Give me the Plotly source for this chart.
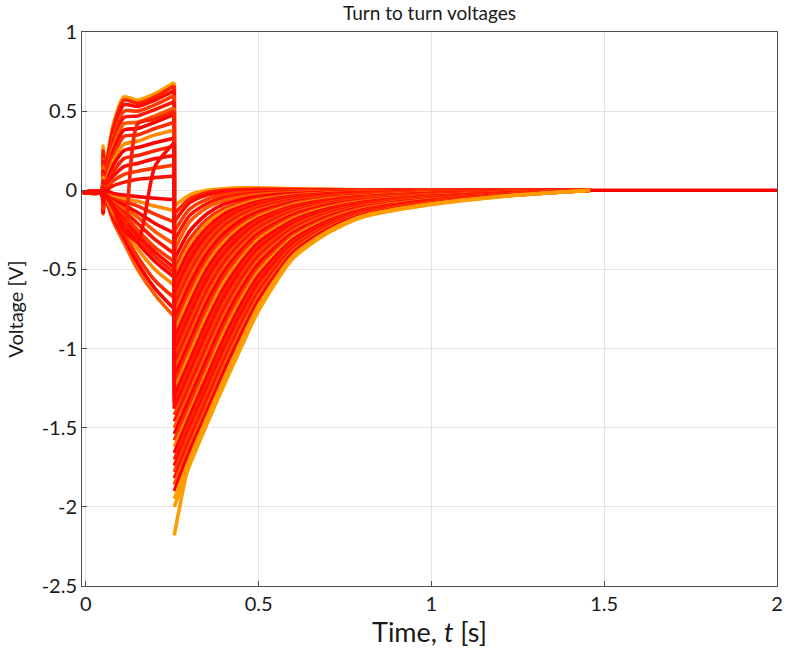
import plotly.graph_objects as go

# time bases (s)
PRE_T = [-0.01, 0.045, 0.05, 0.055, 0.08, 0.11, 0.15, 0.2, 0.256]
POST_T = [0.256, 0.3, 0.35, 0.4, 0.45, 0.5, 0.6, 0.7, 0.8, 1.0, 1.2, 1.46]
TAIL_T = [1.46, 2.0]
TAIL_V = [0.0, 0.0]

# turn voltages before the step (V), upper fan
PRE_UPPER = [
    [-0.012, -0.012, 0.28, 0.15, 0.42, 0.59, 0.57, 0.61, 0.68],
    [-0.012, -0.012, 0.25, 0.13, 0.40, 0.57, 0.55, 0.59, 0.66],
    [-0.012, -0.012, 0.22, 0.12, 0.37, 0.54, 0.53, 0.57, 0.63],
    [-0.012, -0.012, 0.20, 0.10, 0.34, 0.50, 0.50, 0.54, 0.60],
    [-0.012, -0.012, 0.18, 0.09, 0.31, 0.46, 0.47, 0.51, 0.56],
    [-0.012, -0.012, 0.15, 0.08, 0.28, 0.42, 0.43, 0.47, 0.52],
    [-0.012, -0.012, 0.12, 0.07, 0.25, 0.38, 0.39, 0.43, 0.48],
    [-0.012, -0.012, 0.10, 0.06, 0.22, 0.34, 0.35, 0.39, 0.43],
    [-0.012, -0.012, 0.08, 0.05, 0.19, 0.29, 0.31, 0.35, 0.38],
    [-0.012, -0.012, 0.06, 0.04, 0.16, 0.25, 0.27, 0.30, 0.33],
    [-0.012, -0.012, 0.05, 0.03, 0.12, 0.20, 0.22, 0.25, 0.28],
    [-0.012, -0.012, 0.04, 0.02, 0.09, 0.15, 0.17, 0.20, 0.22],
    [-0.012, -0.012, 0.03, 0.01, 0.06, 0.10, 0.12, 0.14, 0.16],
    [-0.012, -0.012, 0.02, 0.00, 0.03, 0.05, 0.07, 0.08, 0.09],
]

# before the step, lower fan
PRE_LOWER = [
    [-0.012, -0.012, -0.15, -0.05, -0.20, -0.33, -0.50, -0.66, -0.80],
    [-0.012, -0.012, -0.14, -0.05, -0.18, -0.30, -0.46, -0.62, -0.75],
    [-0.012, -0.012, -0.12, -0.04, -0.16, -0.27, -0.42, -0.57, -0.68],
    [-0.012, -0.012, -0.10, -0.04, -0.14, -0.24, -0.37, -0.50, -0.60],
    [-0.012, -0.012, -0.08, -0.03, -0.12, -0.21, -0.33, -0.45, -0.55],
    [-0.012, -0.012, -0.07, -0.03, -0.10, -0.19, -0.30, -0.42, -0.52],
    [-0.012, -0.012, -0.06, -0.02, -0.09, -0.17, -0.28, -0.39, -0.49],
    [-0.012, -0.012, -0.05, -0.02, -0.08, -0.15, -0.25, -0.36, -0.45],
    [-0.012, -0.012, -0.04, -0.02, -0.07, -0.13, -0.21, -0.31, -0.40],
    [-0.012, -0.012, -0.03, -0.01, -0.06, -0.11, -0.17, -0.26, -0.34],
    [-0.012, -0.012, -0.03, -0.01, -0.05, -0.09, -0.14, -0.21, -0.27],
    [-0.012, -0.012, -0.02, -0.01, -0.04, -0.07, -0.10, -0.15, -0.20],
    [-0.012, -0.012, -0.02, 0.00, -0.03, -0.05, -0.07, -0.10, -0.13],
    [-0.012, -0.012, -0.01, 0.00, -0.02, -0.03, -0.04, -0.05, -0.06],
]

# a couple of turns that swing across the fan
PRE_CROSS = [
    [-0.012, -0.012, -0.10, -0.03, -0.12, -0.28, 0.42, 0.45, 0.50],
    [-0.012, -0.012, -0.08, -0.02, -0.10, -0.25, -0.32, 0.15, 0.30],
]

# after the step: recovery towards zero
POST_SHALLOW = [
    [-0.10, -0.03, 0.00, 0.01, 0.015, 0.015, 0.01, 0.006, 0.003, 0.0, 0.0, 0.0],
    [-0.15, -0.055, -0.015, 0.0, 0.005, 0.008, 0.006, 0.004, 0.002, 0.0, 0.0, 0.0],
    [-0.20, -0.08, -0.03, -0.01, -0.004, 0.0, 0.002, 0.001, 0.0, 0.0, 0.0, 0.0],
    [-0.26, -0.12, -0.057, -0.028, -0.016, -0.009, -0.003, -0.002, -0.002, -0.001, 0.0, 0.0],
    [-0.32, -0.16, -0.084, -0.046, -0.029, -0.018, -0.009, -0.005, -0.004, -0.001, 0.0, 0.0],
    [-0.38, -0.20, -0.11, -0.064, -0.041, -0.027, -0.014, -0.008, -0.005, -0.002, -0.001, 0.0],
    [-0.44, -0.26, -0.15, -0.088, -0.058, -0.039, -0.021, -0.012, -0.008, -0.003, -0.002, 0.0],
    [-0.50, -0.31, -0.185, -0.115, -0.078, -0.053, -0.028, -0.017, -0.011, -0.005, -0.003, 0.0],
    [-0.54, -0.35, -0.21, -0.133, -0.091, -0.062, -0.033, -0.019, -0.013, -0.006, -0.003, 0.0],
    [-0.58, -0.38, -0.24, -0.151, -0.104, -0.071, -0.038, -0.022, -0.015, -0.007, -0.004, 0.0],
    [-0.62, -0.42, -0.26, -0.17, -0.117, -0.081, -0.043, -0.026, -0.017, -0.009, -0.004, 0.0],
    [-0.66, -0.45, -0.29, -0.19, -0.131, -0.092, -0.05, -0.03, -0.02, -0.01, -0.005, 0.0],
    [-0.70, -0.49, -0.32, -0.21, -0.145, -0.103, -0.056, -0.034, -0.023, -0.011, -0.006, 0.0],
    [-0.74, -0.53, -0.35, -0.23, -0.159, -0.114, -0.062, -0.038, -0.025, -0.012, -0.006, 0.0],
]

POST_MID = [
    [-0.78, -0.56, -0.375, -0.25, -0.173, -0.125, -0.069, -0.042, -0.028, -0.013, -0.007, 0.0],
    [-0.82, -0.60, -0.405, -0.273, -0.19, -0.137, -0.076, -0.046, -0.031, -0.015, -0.007, 0.0],
    [-0.86, -0.64, -0.44, -0.30, -0.21, -0.151, -0.083, -0.051, -0.034, -0.016, -0.008, 0.0],
    [-0.90, -0.68, -0.47, -0.325, -0.23, -0.165, -0.091, -0.056, -0.037, -0.018, -0.009, 0.0],
    [-0.94, -0.72, -0.50, -0.351, -0.247, -0.179, -0.099, -0.061, -0.04, -0.019, -0.01, 0.0],
    [-0.98, -0.76, -0.535, -0.377, -0.269, -0.193, -0.106, -0.065, -0.043, -0.021, -0.011, 0.0],
    [-1.02, -0.80, -0.57, -0.404, -0.291, -0.208, -0.115, -0.071, -0.047, -0.023, -0.012, 0.0],
    [-1.06, -0.84, -0.605, -0.432, -0.313, -0.224, -0.125, -0.077, -0.051, -0.025, -0.012, 0.0],
    [-1.10, -0.88, -0.64, -0.46, -0.335, -0.24, -0.135, -0.083, -0.055, -0.027, -0.013, 0.0],
    [-1.14, -0.92, -0.675, -0.488, -0.357, -0.256, -0.145, -0.089, -0.058, -0.029, -0.014, 0.0],
    [-1.18, -0.96, -0.71, -0.516, -0.379, -0.272, -0.155, -0.095, -0.062, -0.031, -0.015, 0.0],
    [-1.22, -1.00, -0.75, -0.547, -0.403, -0.29, -0.166, -0.102, -0.066, -0.033, -0.017, 0.0],
    [-1.26, -1.04, -0.79, -0.581, -0.429, -0.31, -0.178, -0.109, -0.071, -0.036, -0.018, 0.0],
    [-1.30, -1.08, -0.83, -0.615, -0.455, -0.33, -0.19, -0.117, -0.076, -0.038, -0.019, 0.0],
    [-1.34, -1.12, -0.87, -0.649, -0.481, -0.35, -0.202, -0.124, -0.081, -0.04, -0.02, 0.0],
    [-1.38, -1.16, -0.91, -0.683, -0.507, -0.37, -0.214, -0.131, -0.086, -0.043, -0.021, 0.0],
]

POST_DEEP = [
    [-1.42, -1.20, -0.95, -0.718, -0.535, -0.392, -0.227, -0.14, -0.091, -0.045, -0.023, 0.0],
    [-1.46, -1.24, -0.99, -0.754, -0.565, -0.416, -0.241, -0.149, -0.096, -0.048, -0.024, 0.0],
    [-1.50, -1.28, -1.03, -0.79, -0.595, -0.44, -0.255, -0.158, -0.102, -0.051, -0.026, 0.0],
    [-1.54, -1.32, -1.07, -0.826, -0.625, -0.464, -0.269, -0.167, -0.107, -0.054, -0.027, 0.0],
    [-1.58, -1.36, -1.11, -0.862, -0.655, -0.488, -0.283, -0.176, -0.112, -0.057, -0.028, 0.0],
    [-1.62, -1.40, -1.15, -0.898, -0.686, -0.513, -0.297, -0.185, -0.118, -0.06, -0.03, 0.0],
    [-1.66, -1.43, -1.18, -0.934, -0.718, -0.539, -0.311, -0.194, -0.124, -0.063, -0.031, 0.0],
    [-1.70, -1.47, -1.22, -0.97, -0.75, -0.565, -0.325, -0.203, -0.13, -0.066, -0.032, 0.0],
    [-1.74, -1.51, -1.26, -1.006, -0.782, -0.591, -0.339, -0.212, -0.136, -0.069, -0.034, 0.0],
    [-1.78, -1.54, -1.29, -1.042, -0.814, -0.617, -0.353, -0.221, -0.142, -0.072, -0.035, 0.0],
    [-1.82, -1.58, -1.33, -1.077, -0.846, -0.643, -0.367, -0.229, -0.148, -0.076, -0.036, 0.0],
    [-1.86, -1.62, -1.37, -1.111, -0.878, -0.669, -0.381, -0.238, -0.153, -0.079, -0.037, 0.0],
    [-1.90, -1.65, -1.40, -1.145, -0.91, -0.695, -0.395, -0.247, -0.158, -0.082, -0.038, 0.0],
    [-1.95, -1.70, -1.44, -1.19, -0.95, -0.728, -0.413, -0.259, -0.164, -0.086, -0.039, 0.0],
    [-2.00, -1.74, -1.48, -1.23, -0.99, -0.76, -0.43, -0.27, -0.17, -0.09, -0.04, 0.0],
    [-2.18, -1.72, -1.46, -1.21, -0.97, -0.745, -0.422, -0.265, -0.167, -0.088, -0.039, 0.0],
]

# red -> orange, roughly like the autumn colormap of the original
palette = ["#ff0000", "#ff2200", "#ff0a00", "#ff3c00", "#ff1200",
           "#ff5a00", "#ff0000", "#ff2e00", "#ff8c00"]
ORANGE = "#ff9c00"
LW = 3.6

pre = PRE_UPPER + PRE_LOWER + PRE_CROSS
post = POST_SHALLOW + POST_MID + POST_DEEP


def line(col, shape="linear"):
    d = dict(color=col, width=LW, shape=shape)
    if shape == "spline":
        d["smoothing"] = 0.7
    return d


fig = go.Figure()

for i, vals in enumerate(post):
    col = palette[i % len(palette)]
    # the envelopes look orange in the original
    if i == 0 or i >= len(post) - 3:
        col = ORANGE
    if i < len(pre):
        # build-up before the step
        fig.add_trace(go.Scatter(x=PRE_T, y=pre[i], mode="lines", line=line(col, "spline"),
                                 showlegend=False, hoverinfo="skip"))
        # the jump itself
        fig.add_trace(go.Scatter(x=[PRE_T[-1], POST_T[0]], y=[pre[i][-1], vals[0]],
                                 mode="lines", line=line(col),
                                 showlegend=False, hoverinfo="skip"))
    fig.add_trace(go.Scatter(x=POST_T, y=vals, mode="lines", line=line(col, "spline"),
                             showlegend=False, hoverinfo="skip"))

fig.add_trace(go.Scatter(x=TAIL_T, y=TAIL_V, mode="lines", line=line("#ff0000"),
                         showlegend=False, hoverinfo="skip"))

axis_style = dict(showline=True, linecolor="#4d4d4d", linewidth=1, mirror=True,
                  ticks="inside", ticklen=5, tickcolor="#4d4d4d",
                  showgrid=True, gridcolor="#e3e3e3", gridwidth=1,
                  zeroline=False, tickfont=dict(size=20, color="#1a1a1a"))

fig.update_layout(
    width=792, height=658,
    margin=dict(l=82, r=9, t=32, b=72),
    paper_bgcolor="white", plot_bgcolor="white",
    font=dict(family="Lato, 'Open Sans', sans-serif", color="#1a1a1a"),
    title=dict(text="Turn to turn voltages", x=0.5, xanchor="center", xref="paper",
               y=0.979, yanchor="middle", font=dict(size=19)),
    xaxis=dict(range=[-0.011, 2], tickvals=[0, 0.5, 1, 1.5, 2],
               ticktext=["0", "0.5", "1", "1.5", "2"],
               title=dict(text="Time, <i>t</i> [s]", font=dict(size=27), standoff=6),
               **axis_style),
    yaxis=dict(range=[-2.5, 1], tickvals=[1, 0.5, 0, -0.5, -1, -1.5, -2, -2.5],
               ticktext=["1", "0.5", "0", "-0.5", "-1", "-1.5", "-2", "-2.5"],
               title=dict(text="Voltage [V]", font=dict(size=20), standoff=12),
               **axis_style),
)

# drop the default 8px body margin so the figure sits at the page corner
fig.write_html("out.html", config={"displayModeBar": False},
               post_script="document.body.style.margin='0px';")
